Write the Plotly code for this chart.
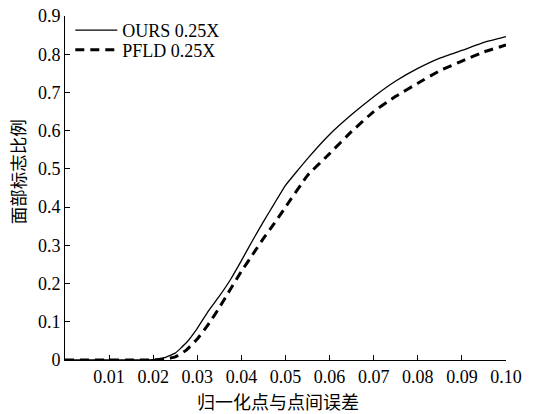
import plotly.graph_objects as go

x_vals = [0, 0.005, 0.01, 0.015, 0.02, 0.0225, 0.025, 0.0275, 0.03, 0.0325, 0.035, 0.0375,
          0.04, 0.0425, 0.045, 0.0475, 0.05, 0.055, 0.06, 0.065, 0.07, 0.075, 0.08, 0.085,
          0.09, 0.095, 0.1]
ours = [0, 0, 0, 0, 0.001, 0.006, 0.018, 0.045, 0.083, 0.128, 0.167, 0.21,
        0.26, 0.312, 0.362, 0.41, 0.457, 0.527, 0.59, 0.642, 0.689, 0.73, 0.763, 0.79,
        0.81, 0.831, 0.846]
pfld = [0, 0, 0, 0, 0, 0.002, 0.008, 0.026, 0.055, 0.093, 0.137, 0.185,
        0.232, 0.275, 0.318, 0.358, 0.40, 0.483, 0.54, 0.598, 0.65, 0.69, 0.724, 0.757,
        0.782, 0.806, 0.824]

x_ticks = [0.01, 0.02, 0.03, 0.04, 0.05, 0.06, 0.07, 0.08, 0.09, 0.10]
x_ticktext = ["0.01", "0.02", "0.03", "0.04", "0.05", "0.06", "0.07", "0.08", "0.09", "0.10"]
y_ticks = [0, 0.1, 0.2, 0.3, 0.4, 0.5, 0.6, 0.7, 0.8, 0.9]
y_ticktext = ["0", "0.1", "0.2", "0.3", "0.4", "0.5", "0.6", "0.7", "0.8", "0.9"]

x_title = "归一化点与点间误差"
y_title = "面部标志比例"

FONT = "Liberation Serif, Times New Roman, serif"
CJK = "Noto Sans CJK SC"

fig = go.Figure()
fig.add_trace(go.Scatter(x=x_vals, y=ours, mode="lines", name="OURS 0.25X", legend="legend",
                         line=dict(color="black", width=1.3, shape="spline", smoothing=0.3)))
fig.add_trace(go.Scatter(x=x_vals, y=pfld, mode="lines", name="PFLD 0.25X", legend="legend2",
                         line=dict(color="black", width=3, dash="9px,6px", shape="spline", smoothing=0.3)))

leg_common = dict(xanchor="left", yanchor="top", bgcolor="rgba(0,0,0,0)", borderwidth=0,
                  itemwidth=42, font=dict(size=18, family=FONT, color="black"))

fig.update_layout(
    template="none",
    width=534, height=414,
    margin=dict(l=65, r=28, t=12, b=54),
    paper_bgcolor="white", plot_bgcolor="white",
    font=dict(family=FONT, size=18, color="black"),
    showlegend=True,
    legend=dict(x=0.012, y=1.012, **leg_common),
    legend2=dict(x=0.012, y=0.955, **leg_common),
    xaxis=dict(range=[0, 0.1], tickvals=x_ticks, ticktext=x_ticktext, automargin=False,
               showgrid=False, zeroline=False, showline=True, linecolor="black", linewidth=1,
               ticks="inside", ticklen=5, tickcolor="black", tickwidth=1,
               tickfont=dict(size=18, family=FONT)),
    yaxis=dict(range=[0, 0.9], tickvals=y_ticks, ticktext=y_ticktext, automargin=False,
               showgrid=False, zeroline=False, showline=True, linecolor="black", linewidth=1,
               ticks="inside", ticklen=5, tickcolor="black", tickwidth=1,
               tickfont=dict(size=18, family=FONT)),
    annotations=[
        dict(text=x_title, xref="paper", yref="paper", x=0.4841, y=-0.118,
             xanchor="center", yanchor="middle", showarrow=False,
             font=dict(size=18, family=CJK, color="black")),
        dict(text=y_title, xref="paper", yref="paper", x=-0.1077, y=0.5474,
             xanchor="center", yanchor="middle", showarrow=False, textangle=-90,
             font=dict(size=17.5, family=CJK, color="black")),
    ],
)

fig.write_html("out.html", config={"displayModeBar": False},
               post_script="document.body.style.margin='0';")
